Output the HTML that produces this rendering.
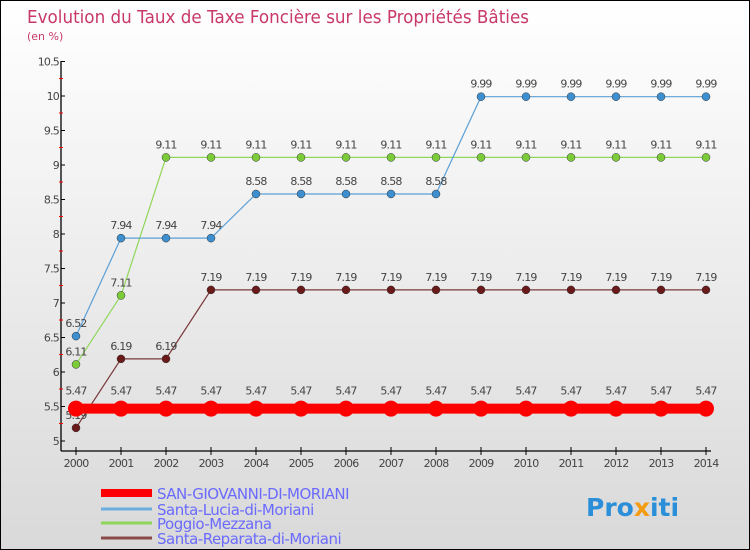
<!DOCTYPE html>
<html><head><meta charset="utf-8"><style>
body{margin:0}
#c{width:750px;height:550px;position:relative;box-sizing:border-box;border:1px solid #000;background:linear-gradient(#fff,#d9d9d9);overflow:hidden;font-family:"DejaVu Sans","Liberation Sans",sans-serif}
</style></head><body>
<div id="c">
<svg id="s" width="750" height="550" style="position:absolute;left:0;top:0">
<text x="26" y="22" font-size="18" fill="#c8386a" textLength="502" lengthAdjust="spacingAndGlyphs">Evolution du Taux de Taxe Foncière sur les Propriétés Bâties</text>
<text x="26" y="39" font-size="11" fill="#c8386a">(en %)</text>
</svg>
</div>
<script>
const years=[2000,2001,2002,2003,2004,2005,2006,2007,2008,2009,2010,2011,2012,2013,2014];
const yTicks=[5,5.5,6,6.5,7,7.5,8,8.5,9,9.5,10,10.5];
const sanGiovanni=[5.47,5.47,5.47,5.47,5.47,5.47,5.47,5.47,5.47,5.47,5.47,5.47,5.47,5.47,5.47];
const santaLucia=[6.52,7.94,7.94,7.94,8.58,8.58,8.58,8.58,8.58,9.99,9.99,9.99,9.99,9.99,9.99];
const poggio=[6.11,7.11,9.11,9.11,9.11,9.11,9.11,9.11,9.11,9.11,9.11,9.11,9.11,9.11,9.11];
const santaReparata=[5.19,6.19,6.19,7.19,7.19,7.19,7.19,7.19,7.19,7.19,7.19,7.19,7.19,7.19,7.19];
const names=["SAN-GIOVANNI-DI-MORIANI","Santa-Lucia-di-Moriani","Poggio-Mezzana","Santa-Reparata-di-Moriani"];
const NS="http://www.w3.org/2000/svg";
const s=document.getElementById('s');
const X=i=>75+i*45;
const Y=v=>440-(v-5)*69;
function mk(t,a,p){const e=document.createElementNS(NS,t);for(const k in a)e.setAttribute(k,a[k]);(p||s).appendChild(e);return e;}
let ax=mk('line',{x1:60,y1:60,x2:60,y2:450,stroke:'#000','stroke-width':1.3});


let bx=mk('line',{x1:60,y1:450,x2:710,y2:450,stroke:'#000','stroke-width':1.3});


yTicks.forEach((v,k)=>{
 mk('line',{x1:60,y1:Y(v),x2:64,y2:Y(v),stroke:'#000'});
 if(k>0) mk('line',{x1:58,y1:Y(v)+17,x2:62,y2:Y(v)+17,stroke:'#f00'});
 const t=mk('text',{x:58,y:Y(v)+4,'font-size':11,fill:'#444','text-anchor':'end','letter-spacing':'-0.8'});
 t.textContent=v;
 
 
});
years.forEach((yr,i)=>{
 mk('line',{x1:X(i),y1:446,x2:X(i),y2:454,stroke:'#000'});
 const t=mk('text',{x:X(i),y:466,'font-size':11,fill:'#444','text-anchor':'middle','letter-spacing':'-0.8'});
 t.textContent=yr;
 
 
});
function series(vals,color,w,r,pc,key,off){
 const g=mk('g',{});
 
 
 mk('polyline',{points:vals.map((v,i)=>X(i)+','+Y(v)).join(' '),fill:'none',stroke:color,'stroke-width':w},g);
 vals.forEach((v,i)=>{
  const c=mk('circle',{cx:X(i),cy:Y(v),r:r,fill:pc,stroke:r>5?'none':'#333','stroke-width':0.5},g);
  
  
  const t=mk('text',{x:X(i),y:Y(v)-off,'font-size':11,fill:'#444','text-anchor':'middle','letter-spacing':'-0.8'},g);
  t.textContent=v;
  
  
 });
}
series(santaReparata,'#7a3a3a',1.2,4,'#6b1a1a','santa-reparata',9);
series(poggio,'#8fd65a',1.2,4,'#7ccc3a','poggio',9);
series(santaLucia,'#5b9fd6',1.2,4,'#3d8fd0','santa-lucia',9);
series(sanGiovanni,'#f00',10,8,'#f00','san-giovanni',14);
const lc=['#f00','#6aaee0','#8fd65a','#8a4a4a'],lw=[8,3,3,3],ly=[492,508,522,537];
names.forEach((n,i)=>{
 mk('line',{x1:100,y1:ly[i],x2:151,y2:ly[i],stroke:lc[i],'stroke-width':lw[i]});
 const t=mk('text',{x:156,y:ly[i]+6,'font-size':15,fill:'#6a6aff','letter-spacing':'-0.5'});
 t.textContent=n;
 
 
});
const p=mk('text',{x:585,y:515,'font-size':25,'font-weight':'bold','fill':'#2a8fd8'});
p.innerHTML='Pro<tspan fill="#f39c12">x</tspan>iti';


</script>
</body></html>
